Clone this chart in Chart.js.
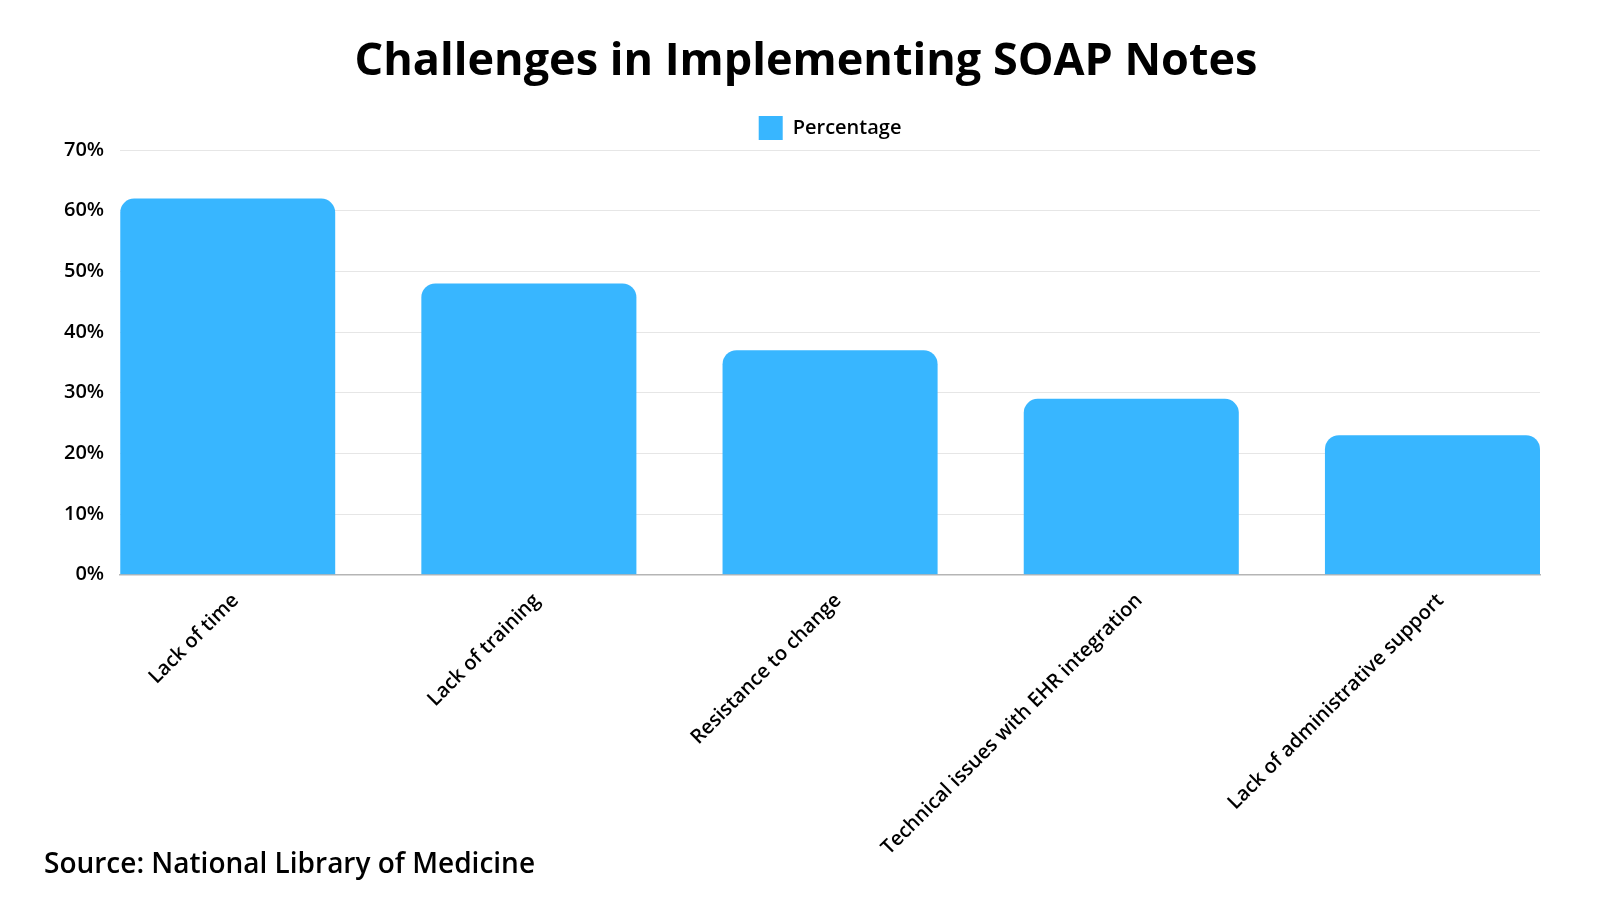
<!DOCTYPE html>
<html>
<head>
<meta charset="utf-8">
<script src="https://cdn.jsdelivr.net/npm/chart.js@4"></script>
<style>
    html, body { margin: 0; padding: 0; background: #fff; }
    #wrap { position: relative; width: 1600px; height: 900px; }
    #title {
        position: absolute; left: 0; top: 27px; width: 1612px;
        text-align: center; font: 700 45px "Open Sans", sans-serif; color: #000;
    }
    #source {
        position: absolute; left: 44px; top: 843px;
        font: 600 28px "Open Sans", sans-serif; color: #000;
    }
</style>
</head>
<body>
<div id="wrap">
    <canvas id="chart" width="1600" height="900"></canvas>
    <div id="title">Challenges in Implementing SOAP Notes</div>
    <div id="source">Source: National Library of Medicine</div>
</div>
<script>
// Chart data
const categories = [
    'Lack of time',
    'Lack of training',
    'Resistance to change',
    'Technical issues with EHR integration',
    'Lack of administrative support',
];
const percentages = [62, 48, 37, 29, 23];
const yMin = 0;
const yMax = 70;
const yStep = 10;

// Center the legend over the plot area instead of the whole canvas
const legendToChartArea = {
    id: 'legendToChartArea',
    afterLayout(chart) {
        const lg = chart.legend;
        if (!lg) return;
        lg.left = chart.chartArea.left;
        lg.right = chart.chartArea.right;
        lg.width = lg.right - lg.left;
    },
};

const ctx = document.getElementById('chart');

new Chart(ctx, {
    type: 'bar',
    data: {
        datasets: [{
            label: 'Percentage',
            data: percentages.map((v, i) => ({ x: i, y: v })),
            backgroundColor: '#38b6ff',
            borderWidth: 0,
            borderRadius: 14,
            categoryPercentage: 1,
            barPercentage: 0.714,
        }],
    },
    options: {
        responsive: false,
        animation: false,
        layout: {
            padding: { top: 106, left: 48, right: 60, bottom: 34 },
        },
        scales: {
            x: {
                type: 'linear',
                offset: false,
                min: -0.357,
                max: categories.length - 1 + 0.357,
                grid: { display: false },
                border: { display: true, color: '#b5b5b5', width: 1.5 },
                ticks: {
                    stepSize: 1,
                    includeBounds: false,
                    autoSkip: false,
                    minRotation: 45,
                    maxRotation: 45,
                    labelOffset: 8,
                    padding: 6,
                    color: '#000',
                    font: { family: 'Open Sans', size: 20, weight: '600' },
                    callback: (value) => categories[value] ?? '',
                },
            },
            y: {
                min: yMin,
                max: yMax,
                grid: { color: '#e6e6e6', drawTicks: false },
                border: { display: false },
                ticks: {
                    stepSize: yStep,
                    padding: 16,
                    color: '#000',
                    font: { family: 'Open Sans', size: 20, weight: '600' },
                    callback: (value) => value + '%',
                },
            },
        },
        plugins: {
            legend: {
                display: true,
                position: 'top',
                labels: {
                    boxWidth: 24,
                    boxHeight: 24,
                    color: '#000',
                    font: { family: 'Open Sans', size: 20, weight: '600' },
                },
            },
            tooltip: { enabled: false },
        },
    },
    plugins: [legendToChartArea],
});
</script>
</body>
</html>
